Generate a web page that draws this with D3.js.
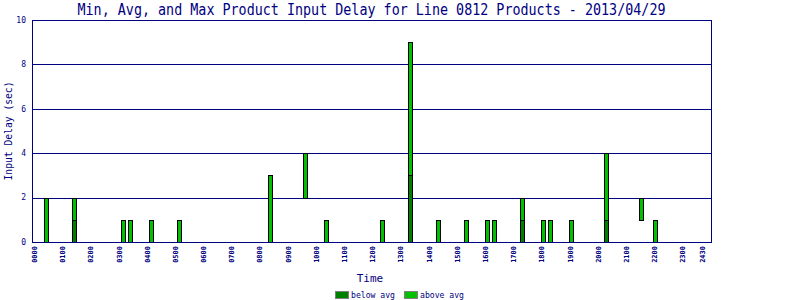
<!DOCTYPE html>
<html>
<head>
<meta charset="utf-8">
<script src="https://cdn.jsdelivr.net/npm/d3@7"></script>
<style>
  body { margin: 0; background: #fff; }
  text { font-family: "DejaVu Sans Mono", monospace; fill: #000080; }
</style>
</head>
<body>
<script>
// time of each bar in hours, and min / avg / max delay
var times = [0.40, 1.39, 3.14, 3.38, 4.13, 5.13, 8.35, 9.59, 10.34, 12.32, 13.32,
             14.31, 15.31, 16.05, 16.30, 17.29, 18.04, 18.29, 19.03, 20.27, 21.52, 22.01];
var mins  = [0, 0, 0, 0, 0, 0, 0, 2, 0, 0, 0, 0, 0, 0, 0, 0, 0, 0, 0, 0, 1, 0];
var avgs  = [0, 1, 0, 0, 0, 0, 0, 2, 0, 0, 3, 0, 0, 0, 0, 1, 0, 0, 0, 1, 1, 0];
var maxs  = [2, 2, 1, 1, 1, 1, 3, 4, 1, 1, 9, 1, 1, 1, 1, 2, 1, 1, 1, 4, 2, 1];

var tickHours  = [0,1,2,3,4,5,6,7,8,9,10,11,12,13,14,15,16,17,18,19,20,21,22,23,23.7];
var tickLabels = ["0000","0100","0200","0300","0400","0500","0600","0700","0800","0900",
                  "1000","1100","1200","1300","1400","1500","1600","1700","1800","1900",
                  "2000","2100","2200","2300","2430"];
var yTicks = [0, 2, 4, 6, 8, 10];
var seriesNames = ["below avg", "above avg"];
var colors = ["#008000", "#00c000"];

var width = 800, height = 300;
var pLeft = 32, pRight = 711, pTop = 20, pBottom = 242;

var svg = d3.select("body").append("svg")
    .attr("width", width)
    .attr("height", height);

var x = d3.scaleLinear().domain([0, 24]).range([34.5, 711]);
var y = d3.scaleLinear().domain([0, 10]).range([pBottom, pTop]);

svg.append("text").attr("x", (pLeft + pRight) / 2).attr("y", 15)
  .attr("text-anchor", "middle").style("font-size", "15px")
  .attr("textLength", 588).attr("lengthAdjust", "spacingAndGlyphs")
  .text("Min, Avg, and Max Product Input Delay for Line 0812 Products - 2013/04/29");

// gridlines
svg.selectAll(".grid").data(yTicks).enter().append("line")
  .attr("x1", pLeft).attr("x2", pRight)
  .attr("y1", d => Math.round(y(d)) + 0.5).attr("y2", d => Math.round(y(d)) + 0.5)
  .attr("stroke", "#000080").attr("stroke-width", 1);

svg.selectAll(".ylab").data(yTicks).enter().append("text")
  .attr("x", 26).attr("y", d => y(d)).attr("dy", "0.35em")
  .attr("text-anchor", "end").style("font-size", "8px")
  .text(d => d);

// bars
var data = times.map((t, i) => ({t: t, min: mins[i], avg: avgs[i], max: maxs[i]}));
var bw = 4;
var g = svg.append("g");
data.forEach(function(d) {
  if (d.avg > d.min) {
    g.append("rect")
      .attr("x", Math.round(x(d.t) - bw / 2) + 0.5).attr("width", bw)
      .attr("y", Math.round(y(d.avg)) + 0.5).attr("height", Math.round(y(d.min)) - Math.round(y(d.avg)))
      .attr("fill", colors[0]).attr("stroke", "#000").attr("stroke-width", 1);
  }
  if (d.max > d.avg) {
    g.append("rect")
      .attr("x", Math.round(x(d.t) - bw / 2) + 0.5).attr("width", bw)
      .attr("y", Math.round(y(d.max)) + 0.5).attr("height", Math.round(y(d.avg)) - Math.round(y(d.max)))
      .attr("fill", colors[1]).attr("stroke", "#000").attr("stroke-width", 1);
  }
});

// frame
svg.append("rect").attr("x", pLeft + 0.5).attr("y", pTop + 0.5)
  .attr("width", pRight - pLeft).attr("height", pBottom - pTop)
  .attr("fill", "none").attr("stroke", "#000080").attr("stroke-width", 1);

// x tick labels
svg.selectAll(".xlab").data(tickHours).enter().append("text")
  .attr("transform", d => "translate(" + x(d) + ",246) rotate(-90)")
  .attr("dy", "0.35em").attr("text-anchor", "end")
  .style("font-size", "7px").style("font-weight", "bold")
  .text((d, i) => tickLabels[i]);

svg.append("text").attr("x", 370).attr("y", 282)
  .attr("text-anchor", "middle").style("font-size", "11px").text("Time");

svg.append("text").attr("transform", "translate(12," + (pTop + pBottom) / 2 + ") rotate(-90)")
  .attr("text-anchor", "middle").style("font-size", "11px")
  .attr("textLength", 99).attr("lengthAdjust", "spacingAndGlyphs")
  .text("Input Delay (sec)");

// legend
var legX = [335, 404];
var leg = svg.selectAll(".leg").data(seriesNames).enter().append("g")
  .attr("transform", (d, i) => "translate(" + legX[i] + ",291)");
leg.append("rect").attr("x", 0.5).attr("y", 0.5).attr("width", 13).attr("height", 7)
  .attr("fill", (d, i) => colors[i]).attr("stroke", "#808080").attr("stroke-width", 1);
leg.append("text").attr("x", 16).attr("y", 4.5).attr("dy", "0.35em")
  .style("font-size", "8px").attr("textLength", 44).attr("lengthAdjust", "spacingAndGlyphs")
  .text(d => d);
</script>
</body>
</html>
